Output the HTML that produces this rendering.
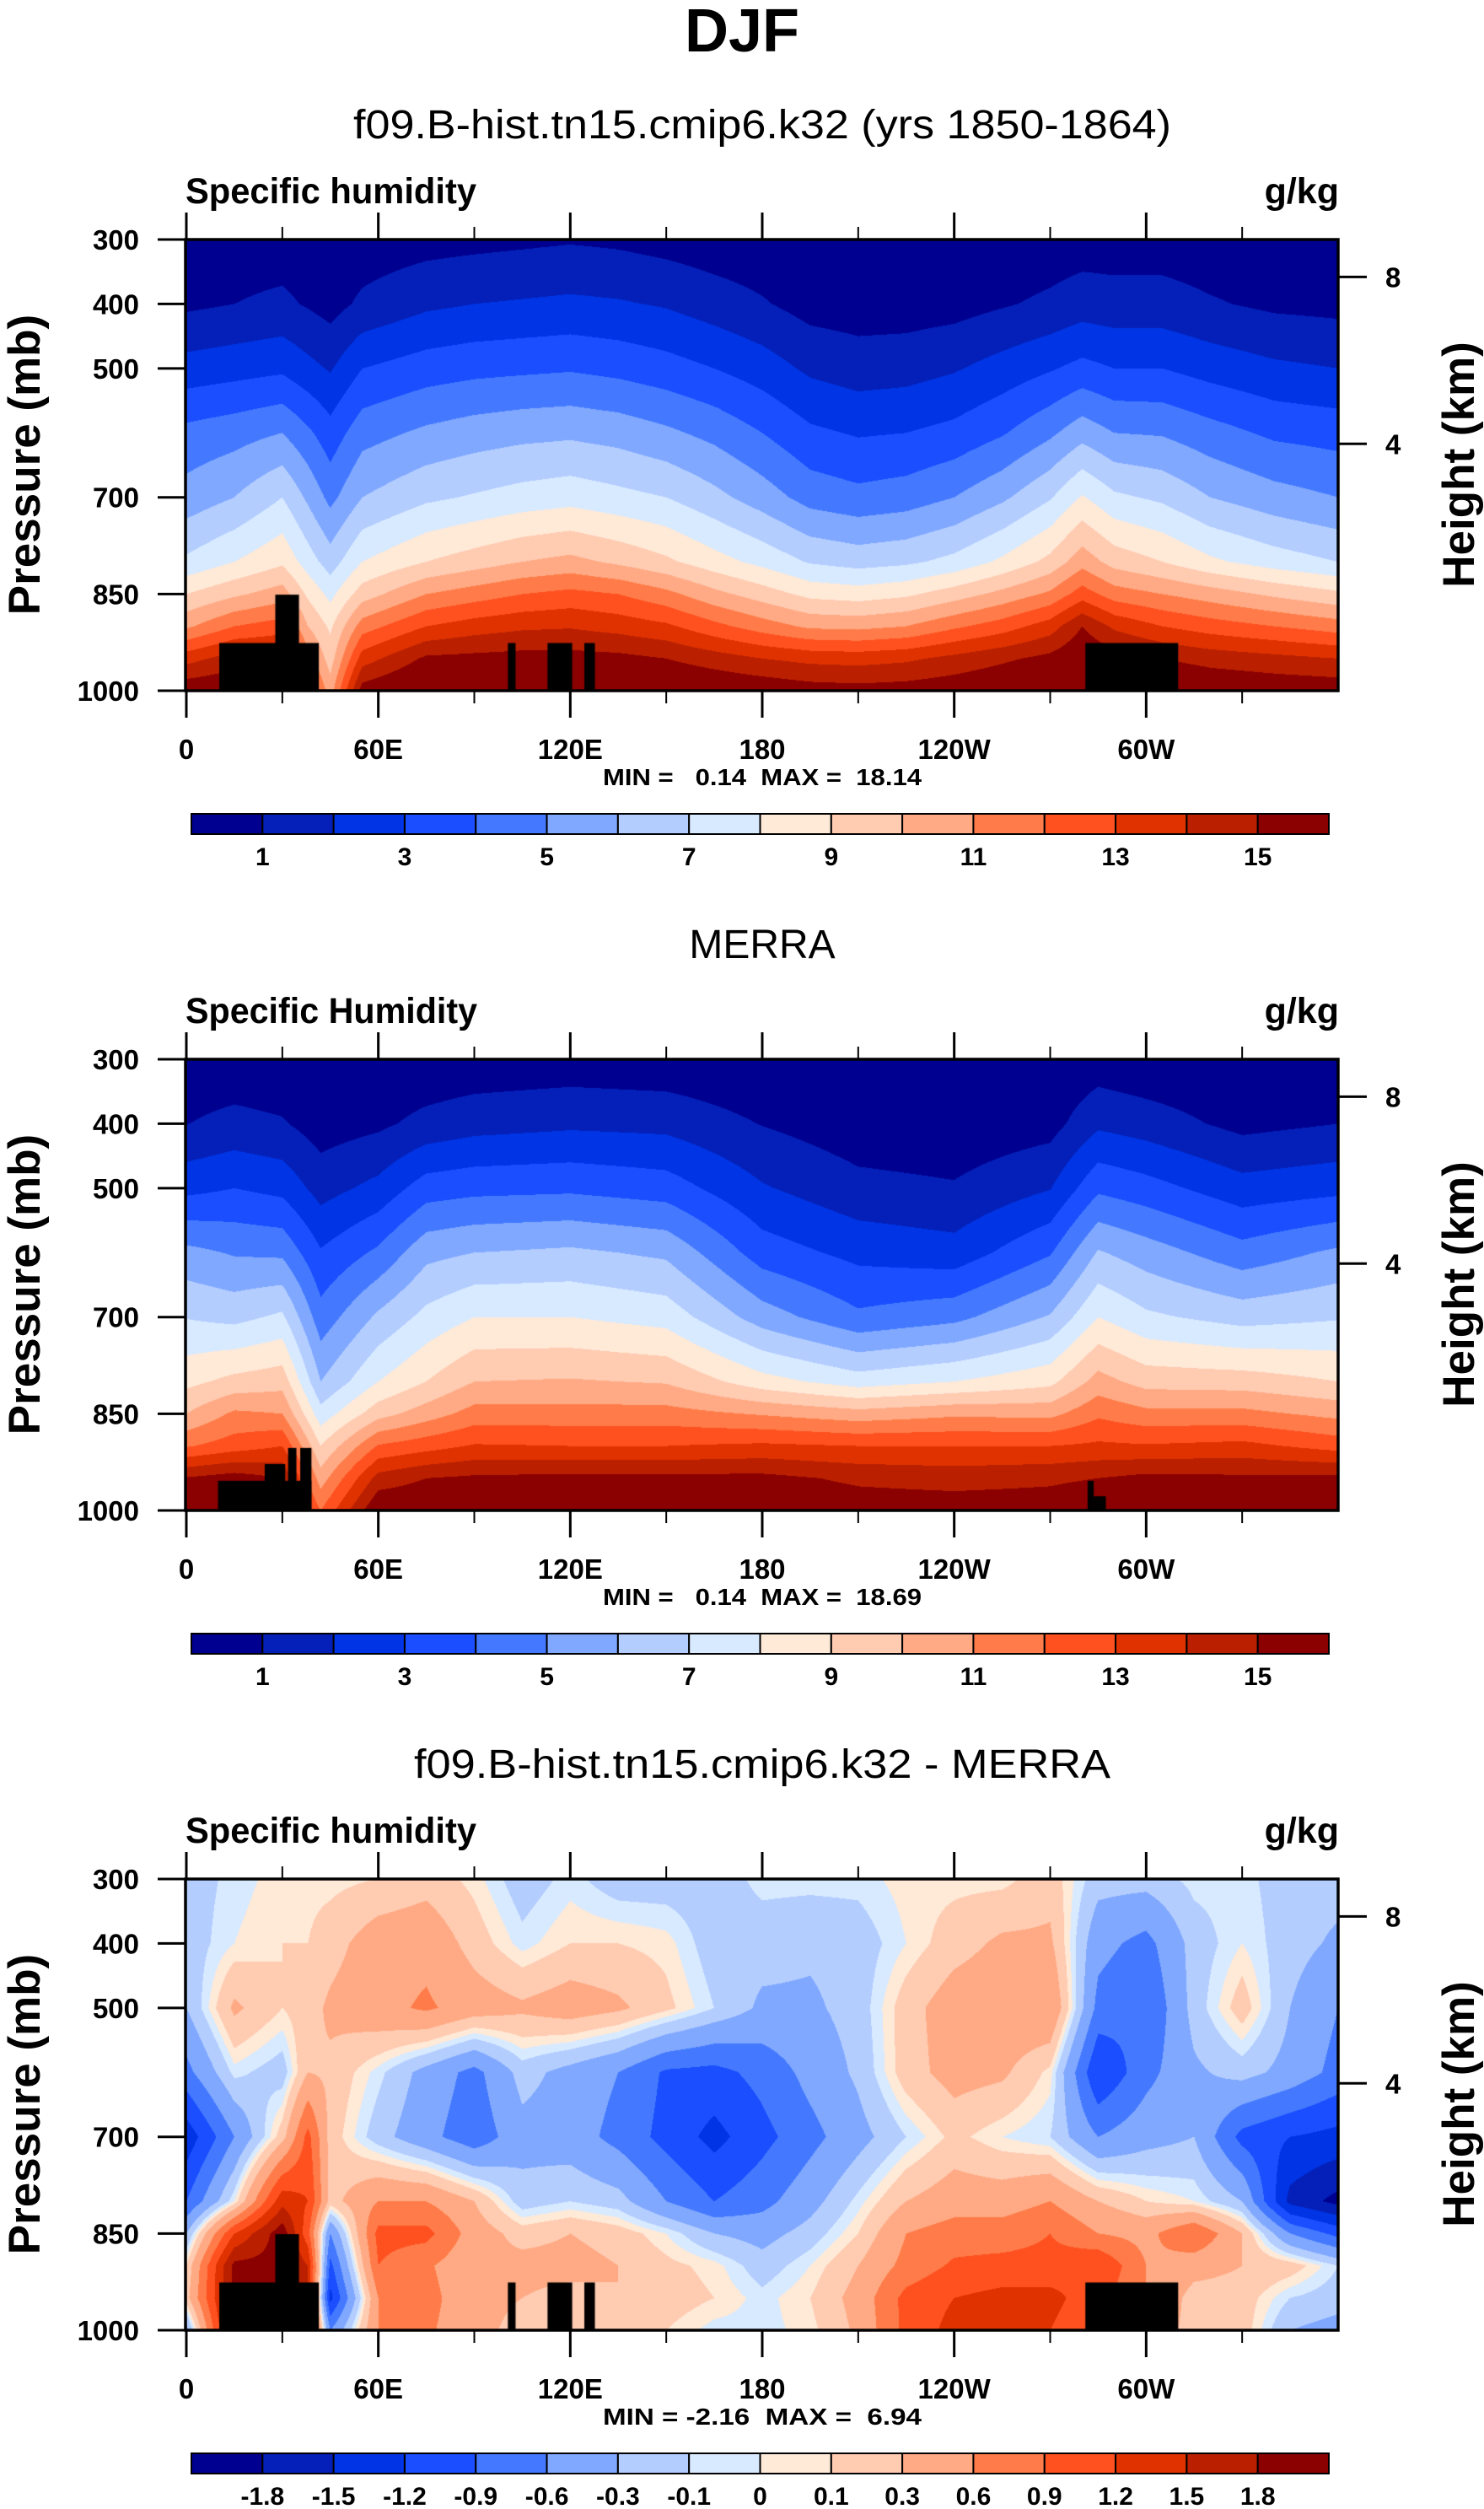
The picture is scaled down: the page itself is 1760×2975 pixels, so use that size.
<!DOCTYPE html>
<html><head><meta charset="utf-8"><title>DJF Specific humidity</title>
<style>
html,body{margin:0;padding:0;background:#fff;}
#wrap{position:relative;width:1760px;height:2975px;overflow:hidden;font-family:"Liberation Sans",sans-serif;}
canvas{position:absolute;}
svg{position:absolute;left:0;top:0;}
text{font-family:"Liberation Sans",sans-serif;fill:#000;}
</style></head>
<body>
<div id="wrap">
<canvas id="c0" width="1366" height="535" style="left:221px;top:284px"></canvas>
<canvas id="c1" width="1366" height="535" style="left:221px;top:1256px"></canvas>
<canvas id="c2" width="1366" height="535" style="left:221px;top:2228px"></canvas>
<svg id="ov" width="1760" height="2975" viewBox="0 0 1760 2975">
<text x="880" y="61" font-size="72" font-weight="bold" text-anchor="middle">DJF</text>
<text x="904" y="164" font-size="48" text-anchor="middle" textLength="970" lengthAdjust="spacingAndGlyphs">f09.B-hist.tn15.cmip6.k32 (yrs 1850-1864)</text>
<text x="220" y="241" font-size="43" font-weight="bold" textLength="345" lengthAdjust="spacingAndGlyphs">Specific humidity</text>
<text x="1588" y="241" font-size="43" font-weight="bold" text-anchor="end">g/kg</text>
<text x="904" y="931" font-size="28" font-weight="bold" text-anchor="middle" textLength="378" lengthAdjust="spacingAndGlyphs" xml:space="preserve">MIN =   0.14  MAX =  18.14</text>

<text x="904" y="1136" font-size="48" text-anchor="middle">MERRA</text>
<text x="220" y="1213" font-size="43" font-weight="bold" textLength="346" lengthAdjust="spacingAndGlyphs">Specific Humidity</text>
<text x="1588" y="1213" font-size="43" font-weight="bold" text-anchor="end">g/kg</text>
<text x="904" y="1903" font-size="28" font-weight="bold" text-anchor="middle" textLength="378" lengthAdjust="spacingAndGlyphs" xml:space="preserve">MIN =   0.14  MAX =  18.69</text>

<text x="904" y="2108" font-size="48" text-anchor="middle" textLength="826" lengthAdjust="spacingAndGlyphs">f09.B-hist.tn15.cmip6.k32 - MERRA</text>
<text x="220" y="2185" font-size="43" font-weight="bold" textLength="345" lengthAdjust="spacingAndGlyphs">Specific humidity</text>
<text x="1588" y="2185" font-size="43" font-weight="bold" text-anchor="end">g/kg</text>
<text x="904" y="2875" font-size="28" font-weight="bold" text-anchor="middle" textLength="378" lengthAdjust="spacingAndGlyphs" xml:space="preserve">MIN = -2.16  MAX =  6.94</text>

<text transform="translate(47,551) rotate(-90)" font-size="53" font-weight="bold" text-anchor="middle">Pressure (mb)</text>
<text transform="translate(1748,551) rotate(-90)" font-size="53" font-weight="bold" text-anchor="middle">Height (km)</text>
<text transform="translate(47,1523) rotate(-90)" font-size="53" font-weight="bold" text-anchor="middle">Pressure (mb)</text>
<text transform="translate(1748,1523) rotate(-90)" font-size="53" font-weight="bold" text-anchor="middle">Height (km)</text>
<text transform="translate(47,2495) rotate(-90)" font-size="53" font-weight="bold" text-anchor="middle">Pressure (mb)</text>
<text transform="translate(1748,2495) rotate(-90)" font-size="53" font-weight="bold" text-anchor="middle">Height (km)</text>
</svg>
</div>
<script>
// ---- data ----
const pRows = [300,400,500,600,700,800,850,900,950,1000];
const levelsQ = [1,2,3,4,5,6,7,8,9,10,11,12,13,14,15];
const levelsD = [-1.8,-1.5,-1.2,-0.9,-0.6,-0.3,-0.1,0,0.1,0.3,0.6,0.9,1.2,1.5,1.8];
const labelsQ = ['1','','3','','5','','7','','9','','11','','13','','15'];
const labelsD = ['-1.8','-1.5','-1.2','-0.9','-0.6','-0.3','-0.1','0','0.1','0.3','0.6','0.9','1.2','1.5','1.8'];
const palette = ['#000090','#0420B8','#0034E4','#1A4EFF','#4479FF','#80A8FF','#B3CDFF','#D8EAFF','#FFE9D7','#FFCBB1','#FFAA84','#FF7C4A','#FF5120','#E03200','#BA2000','#8B0000'];

const modelLons = [0,15,30,38,45,55,75,90,105,120,135,150,165,180,195,210,225,240,255,270,280,290,305,320,340,360];
const modelQ = [
[0.5,0.8,2.4,4.3,5.4,7.2,9.0,10.8,13.6,15.8],
[0.5,1.0,2.6,4.6,6.0,8.0,9.8,12.0,14.5,16],
[0.5,1.2,2.8,5.0,7.0,8.8,10.5,12.5,14.5,15.5],
[0.4,0.9,2.3,4.2,5.8,7.5,8.8,10.0,11.5,13],
[0.2,0.6,1.9,3.4,4.7,6.5,7.7,8.8,9.5,10.5],
[0.4,1.2,3.0,4.6,6.0,8.0,9.5,11.5,13.5,15.5],
[0.6,1.8,3.5,5.2,6.8,9.0,11.0,13.0,15.2,16.5],
[0.7,2.0,3.7,5.5,7.1,9.5,11.5,13.5,15.3,16.5],
[0.8,2.1,3.8,5.7,7.4,10.0,12.0,13.8,15.4,16.5],
[0.9,2.2,3.9,5.8,7.6,10.3,12.3,13.9,15.4,16.5],
[0.8,2.1,3.7,5.6,7.3,9.8,12.0,13.6,15.3,16.4],
[0.6,1.9,3.4,5.2,7.0,9.2,11.3,13.2,15.0,16.2],
[0.4,1.5,3.0,4.7,6.3,8.4,10.3,12.3,14.5,16],
[0.3,1.1,2.5,4.0,5.5,7.7,9.5,11.5,14.0,15.8],
[0.2,0.6,1.8,3.2,4.6,6.9,8.7,10.8,13.7,15.5],
[0.2,0.5,1.5,2.9,4.3,6.6,8.5,10.7,13.6,15.4],
[0.2,0.5,1.6,3.0,4.5,6.8,8.8,11.0,13.8,15.5],
[0.2,0.6,1.9,3.3,5.0,7.3,9.5,11.8,14.3,15.7],
[0.3,0.9,2.4,3.9,5.8,8.2,10.3,12.5,14.8,16],
[0.4,1.2,2.9,4.8,6.9,9.3,11.2,13.5,15.3,16.5],
[0.5,1.5,3.3,5.6,8.1,10.6,12.5,15,16,17],
[0.5,1.4,3.0,5.0,7.2,9.6,11.5,13.8,15.5,16.5],
[0.5,1.4,3.0,4.9,6.8,9.0,11.0,13.0,15.0,16.3],
[0.4,1.1,2.6,4.4,6.0,8.2,10.5,12.5,14.6,16.0],
[0.3,0.8,2.2,3.8,5.4,7.5,9.8,12.0,14.3,15.8],
[0.3,0.7,2.0,3.6,5.0,7.0,9.2,11.5,14.0,15.7]
];

const merraLons = [0,15,30,42,60,75,90,120,150,180,210,240,270,285,300,330,360];
const merraQ = [
[0.3,0.98,2.7,5.3,6.95,8.7,10.0,11.9,15.1,16],
[0.3,1.3,3.0,4.9,6.7,9.3,11.2,12.5,15.5,16],
[0.2,1.1,2.7,4.8,7.2,9.6,11.0,13.0,15.0,15.0],
[0.1,0.5,1.6,3.1,4.4,6.0,7.4,9.0,10.5,12],
[0.2,0.8,2.3,4.2,6.2,8.0,9.6,12.1,14.4,16],
[0.2,1.3,3.5,5.7,7.3,9.0,10.5,12.6,15.0,16],
[0.3,1.6,3.7,6.0,8.0,10.0,11.4,13.1,15.2,16],
[0.4,1.8,3.8,6.2,8.0,10.1,11.4,13.0,15.3,16],
[0.3,1.7,3.5,5.8,7.6,9.9,11.4,13.0,15.3,16],
[0.1,0.96,2.1,3.5,5.5,8.4,10.9,13.2,15.3,16],
[0.0,0.4,1.3,2.7,4.2,7.5,10.4,13.0,14.8,15.6],
[0.0,0.3,1.1,2.4,4.7,8.0,10.8,13.0,14.6,15.6],
[0.1,0.6,1.95,3.9,6.1,8.7,10.7,13.0,14.8,15.6],
[0.4,1.8,3.8,6.1,8.0,10.4,11.8,13.2,15.0,16],
[0.2,1.5,3.4,5.5,7.2,9.6,11.3,13.1,15.3,16],
[0.1,0.7,2.4,4.4,6.6,9.5,11.3,13.3,15.2,16],
[0.1,1.0,2.7,5.2,6.9,9.0,10.7,12.6,15.3,16]
];

const diffLons = [0,15,30,38,45,60,75,90,105,120,135,150,165,180,195,210,225,240,255,270,285,300,315,330,345,360];
const diffQ = [
[-0.2,-0.2,-0.3,-0.7,-1.4,-0.9,-0.3,0.1,0.2,-0.4],
[-0.05,0.0,0.35,-0.05,-0.6,0.0,1.2,1.9,1.9,1.9],
[0.05,0.1,0.1,-0.2,0.2,1.4,2.0,1.9,1.9,1.9],
[0.05,0.1,0.2,0.3,1.0,1.2,1.0,1.5,1.5,1.5],
[0.05,0.2,0.35,0.25,0.2,0.2,-0.6,-1.0,-1.3,-0.6],
[0.1,0.45,0.5,-0.05,-0.2,0.6,1.0,0.9,0.6,0.6],
[0.2,0.5,0.65,-0.4,-0.5,0.6,1.0,0.65,0.7,0.65],
[0.05,0.2,0.45,-0.7,-0.8,0.3,0.45,0.35,0.4,0.4],
[-0.2,-0.05,0.35,-0.2,-0.4,-0.2,0.2,0.4,0.3,0.2],
[-0.05,0.1,0.45,-0.4,-0.45,-0.1,0.3,0.4,0.2,0.1],
[-0.2,0.1,0.35,-0.6,-0.7,-0.2,0.2,0.3,0.3,0.2],
[-0.2,0.05,0.15,-0.95,-1.0,-0.6,0.0,0.15,0.2,0.1],
[-0.2,-0.2,-0.1,-1.0,-1.3,-0.9,-0.3,0.05,0.1,-0.05],
[-0.05,-0.2,-0.35,-0.8,-1.0,-0.7,-0.4,-0.2,-0.05,-0.05],
[-0.05,-0.25,-0.35,-0.5,-0.7,-0.4,-0.2,0.0,0.1,0.05],
[-0.05,-0.2,-0.2,-0.25,-0.4,-0.05,0.1,0.3,0.4,0.35],
[0.05,0.0,0.2,0.2,-0.1,0.3,0.6,0.7,1.0,1.0],
[0.05,0.2,0.45,0.4,0.15,0.45,0.75,0.95,1.2,1.3],
[0.05,0.35,0.5,0.35,0.0,0.45,0.75,1.0,1.3,1.3],
[0.2,0.35,0.6,0.05,-0.1,0.6,0.9,1.0,1.3,1.2],
[-0.2,-0.5,-0.7,-1.2,-0.6,0.3,0.6,1.2,1.0,0.9],
[-0.2,-0.7,-0.9,-0.7,-0.4,0.1,0.5,0.6,0.6,0.5],
[-0.05,-0.2,-0.2,-0.35,-0.3,0.0,0.9,0.4,0.2,0.2],
[-0.05,0.0,0.2,-0.2,-1.0,-0.3,0.3,0.3,0.2,0.2],
[-0.2,-0.2,-0.3,-0.4,-1.2,-1.6,-0.6,0.2,-0.1,-0.3],
[-0.2,-0.35,-0.6,-0.7,-1.3,-1.9,-1.0,-0.1,-0.2,-0.4]
];

// topography blocks: [lonStart, lonEnd, topPressure]
const topoModel = [[10.3,41.4,926],[27.8,35.2,851],[100.5,102.9,926],[112.9,120.6,926],[124.4,127.7,926],[281,310,926]];
const topoMerra = [[9.9,39.1,954],[24.5,30.9,928],[31.8,34.4,903],[35.6,39.1,903],[281.7,283.6,954],[283.6,287.4,978]];

const lonTicks = [0,60,120,180,240,300];
const lonTickLabels = ['0','60E','120E','180','120W','60W'];
const lonMinorTicks = [30,90,150,210,270,330];
const pTicks = [300,400,500,700,850,1000];
const pTickLabels = ['300','400','500','700','850','1000'];
const heightTickP = [358,617];
const heightTickLabels = ['8','4'];

// ---- layout ----
const L = 221, W = 1366, H = 535;
const panelTops = [284, 1256, 2228];
const cbTops = [965, 1937, 2909];
const CBL = 227, CBW = 1349, CBH = 24;
const xOf = lon => L + lon / 360 * W;
const yOf = (p, top) => top + (p - 300) / 700 * H;

function findIdx(arr, v){
  let i = 0;
  while (i < arr.length - 2 && v > arr[i+1]) i++;
  return i;
}
function hexRGB(h){ return [parseInt(h.substr(1,2),16),parseInt(h.substr(3,2),16),parseInt(h.substr(5,2),16)]; }
const palRGB = palette.map(hexRGB);

function drawField(canvasId, lons, grid, levels, topo){
  const cv = document.getElementById(canvasId);
  const ctx = cv.getContext('2d');
  const img = ctx.createImageData(W, H);
  const colIdx = [], colT = [];
  for (let x = 0; x < W; x++){
    const lon = (x + 0.5) / W * 360;
    const i = findIdx(lons, lon);
    colIdx.push(i); colT.push((lon - lons[i]) / (lons[i+1] - lons[i]));
  }
  for (let y = 0; y < H; y++){
    const p = 300 + (y + 0.5) / H * 700;
    const j = findIdx(pRows, p);
    const u = (p - pRows[j]) / (pRows[j+1] - pRows[j]);
    for (let x = 0; x < W; x++){
      const i = colIdx[x], t = colT[x];
      const a = grid[i][j] * (1-u) + grid[i][j+1] * u;
      const b = grid[i+1][j] * (1-u) + grid[i+1][j+1] * u;
      const v = a * (1-t) + b * t;
      let k = 0;
      while (k < levels.length && v >= levels[k]) k++;
      const c = palRGB[k];
      const o = (y * W + x) * 4;
      img.data[o] = c[0]; img.data[o+1] = c[1]; img.data[o+2] = c[2]; img.data[o+3] = 255;
    }
  }
  ctx.putImageData(img, 0, 0);
  ctx.fillStyle = '#000';
  topo.forEach(b => {
    const x0 = b[0]/360*W, x1 = b[1]/360*W;
    const y0 = (b[2]-300)/700*H;
    ctx.fillRect(x0, y0, x1 - x0, H - y0);
  });
}
drawField('c0', modelLons, modelQ, levelsQ, topoModel);
drawField('c1', merraLons, merraQ, levelsQ, topoMerra);
drawField('c2', diffLons, diffQ, levelsD, topoModel);

// ---- axes ----
const NS = 'http://www.w3.org/2000/svg';
const ov = document.getElementById('ov');
function line(x1,y1,x2,y2,w,name){
  const e = document.createElementNS(NS,'line');
  e.setAttribute('x1',x1); e.setAttribute('y1',y1); e.setAttribute('x2',x2); e.setAttribute('y2',y2);
  e.setAttribute('stroke','#000'); e.setAttribute('stroke-width',w);
  
  
  ov.appendChild(e); return e;
}
function txt(x,y,s,size,anchor,name){
  const e = document.createElementNS(NS,'text');
  e.setAttribute('x',x); e.setAttribute('y',y); e.setAttribute('font-size',size);
  e.setAttribute('font-weight','bold'); e.setAttribute('text-anchor',anchor);
  e.textContent = s;
  
  
  ov.appendChild(e); return e;
}
panelTops.forEach((top, pi) => {
  const bot = top + H, R = L + W;
  const fr = document.createElementNS(NS,'rect');
  fr.setAttribute('x', L-1); fr.setAttribute('y', top); fr.setAttribute('width', W+1); fr.setAttribute('height', H);
  fr.setAttribute('fill','none'); fr.setAttribute('stroke','#000'); fr.setAttribute('stroke-width',3.5);
  
  
  ov.appendChild(fr);
  lonTicks.forEach((lon, i) => {
    const x = xOf(lon);
    line(x, top-32, x, top, 3, 'x-major-tick-top');
    line(x, bot, x, bot+32, 3, 'x-major-tick-bottom');
    txt(x, bot+81, lonTickLabels[i], 33, 'middle', 'x-tick-label');
  });
  lonMinorTicks.forEach(lon => {
    const x = xOf(lon);
    line(x, top-15, x, top, 2, 'x-minor-tick-top');
    line(x, bot, x, bot+15, 2, 'x-minor-tick-bottom');
  });
  pTicks.forEach((p, i) => {
    const y = yOf(p, top);
    line(L-34, y, L, y, 3, 'y-tick');
    txt(165, y+12, pTickLabels[i], 33, 'end', 'y-tick-label');
  });
  heightTickP.forEach((p, i) => {
    const y = yOf(p, top);
    line(R, y, R+34, y, 3, 'height-tick');
    txt(1643, y+12, heightTickLabels[i], 33, 'start', 'height-tick-label');
  });
  // colorbar
  const cbTop = cbTops[pi];
  const labels = pi === 2 ? labelsD : labelsQ;
  const bw = CBW / palette.length;
  palette.forEach((col, k) => {
    const r = document.createElementNS(NS,'rect');
    r.setAttribute('x', CBL + k*bw); r.setAttribute('y', cbTop); r.setAttribute('width', bw); r.setAttribute('height', CBH);
    r.setAttribute('fill', col); r.setAttribute('stroke','#000'); r.setAttribute('stroke-width',2);
    
    
    ov.appendChild(r);
  });
  labels.forEach((s, k) => {
    if (s) txt(CBL + (k+1)*bw, cbTop + 61, s, 30, 'middle', 'colorbar-label');
  });
});
</script>
</body></html>
